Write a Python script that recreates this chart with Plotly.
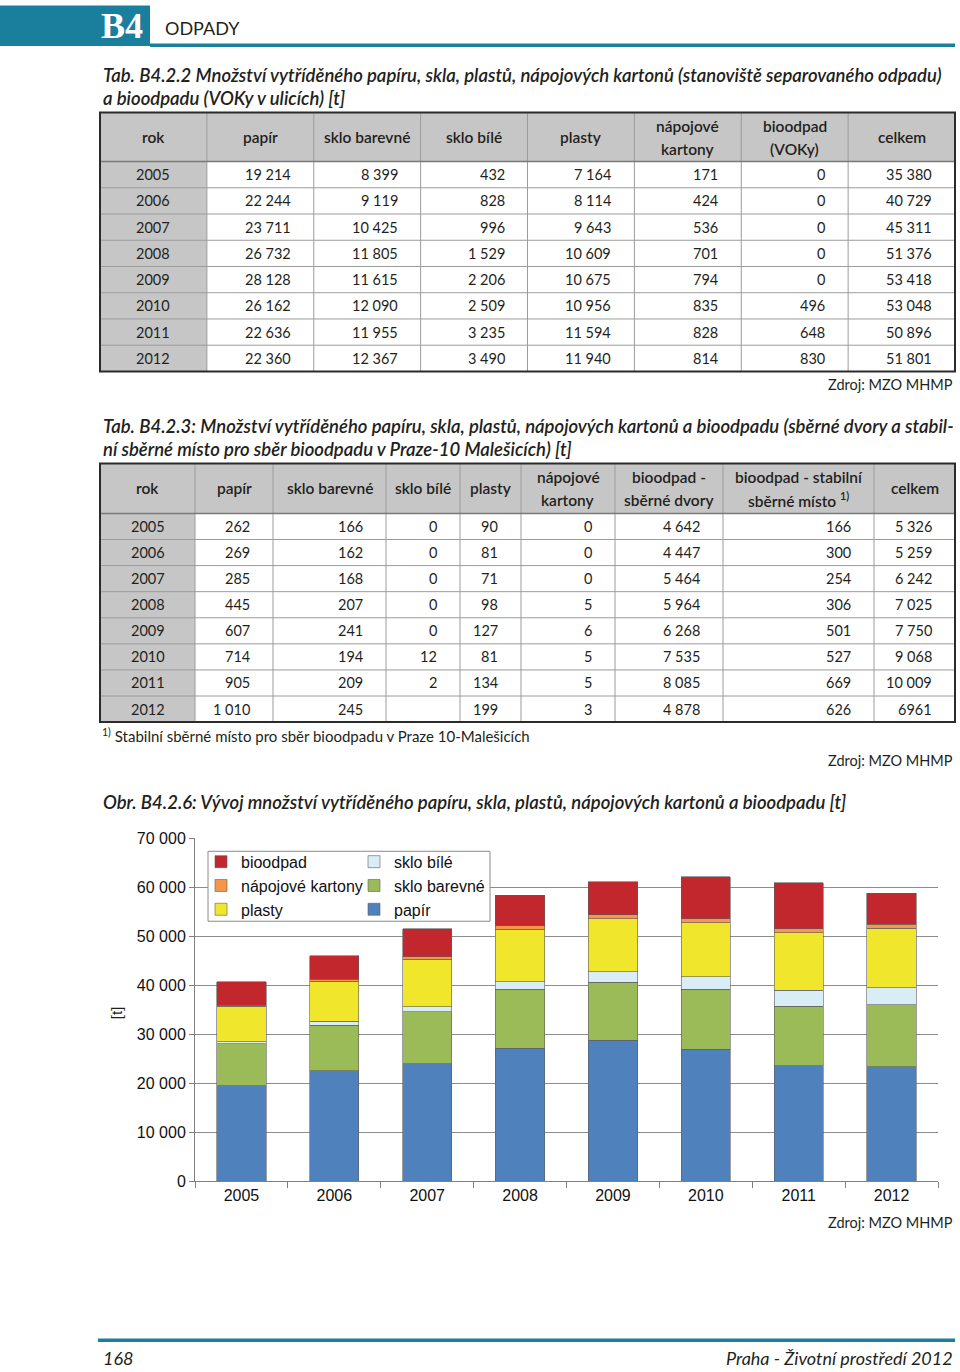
import plotly.graph_objects as go

# ---------------- data ----------------
years = ["2005", "2006", "2007", "2008", "2009", "2010", "2011", "2012"]

# Tab. B4.2.2 (VOKy v ulicích)
t1_papir = [19214, 22244, 23711, 26732, 28128, 26162, 22636, 22360]
t1_sklo_barevne = [8399, 9119, 10425, 11805, 11615, 12090, 11955, 12367]
t1_sklo_bile = [432, 828, 996, 1529, 2206, 2509, 3235, 3490]
t1_plasty = [7164, 8114, 9643, 10609, 10675, 10956, 11594, 11940]
t1_napojove = [171, 424, 536, 701, 794, 835, 828, 814]
t1_bioodpad = [0, 0, 0, 0, 0, 496, 648, 830]
t1_celkem = [35380, 40729, 45311, 51376, 53418, 53048, 50896, 51801]

# Tab. B4.2.3 (sběrné dvory a stabilní sběrné místo)
t2_papir = [262, 269, 285, 445, 607, 714, 905, 1010]
t2_sklo_barevne = [166, 162, 168, 207, 241, 194, 209, 245]
t2_sklo_bile = [0, 0, 0, 0, 0, 12, 2, None]
t2_plasty = [90, 81, 71, 98, 127, 81, 134, 199]
t2_napojove = [0, 0, 0, 5, 6, 5, 5, 3]
t2_bio_dvory = [4642, 4447, 5464, 5964, 6268, 7535, 8085, 4878]
t2_bio_stabilni = [166, 300, 254, 306, 501, 527, 669, 626]
t2_celkem_text = ["5 326", "5 259", "6 242", "7 025", "7 750", "9 068", "10 009", "6961"]

t1_headers = ["rok", "papír", "sklo barevné", "sklo bílé", "plasty",
              ["nápojové", "kartony"], ["bioodpad", "(VOKy)"], "celkem"]
t2_headers = ["rok", "papír", "sklo barevné", "sklo bílé", "plasty",
              ["nápojové", "kartony"], ["bioodpad -", "sběrné dvory"],
              ["bioodpad - stabilní", "sběrné místo <sup>1)</sup>"], "celkem"]

# ---------------- page geometry ----------------
W, H = 960, 1372
TEAL = "#1a7e9d"
TXT = "#231f20"
BODY = "Lato"
CHART_FONT = "Liberation Sans"

# the photographed page shows a small vertical inset; positions are planned
# in page pixels and mapped through it
Y_SCALE, Y_OFFSET = 0.988, 7.4


def px(x):
    return x / W


def py(y):
    return 1 - ((y - Y_OFFSET) / Y_SCALE) / H


def nz(v):
    return 0 if v is None else v


def fmt(v):
    if v is None:
        return ""
    return f"{v:,}".replace(",", " ")


shapes = []
annotations = []


def rect(x0, y0, x1, y1, fill=None, line=None, lw=0, layer="below"):
    shapes.append(dict(type="rect", xref="paper", yref="paper",
                       x0=px(x0), x1=px(x1), y0=py(y1), y1=py(y0),
                       fillcolor=fill if fill else "rgba(0,0,0,0)",
                       line=dict(color=line if line else "rgba(0,0,0,0)", width=lw),
                       layer=layer))


def line(x0, y0, x1, y1, color, lw=1, layer="below"):
    shapes.append(dict(type="line", xref="paper", yref="paper",
                       x0=px(x0), x1=px(x1), y0=py(y0), y1=py(y1),
                       line=dict(color=color, width=lw), layer=layer))


def text(x, y, s, size=15, xanchor="left", weight=400, style="normal",
         color=TXT, family=BODY, angle=0):
    if s == "":
        return
    annotations.append(dict(xref="paper", yref="paper", x=px(x), y=py(y),
                            text=s, showarrow=False, xanchor=xanchor,
                            yanchor="middle", textangle=angle,
                            font=dict(family=family, size=size, color=color,
                                      weight=weight, style=style)))


# ---------------- header / footer ----------------
rect(0, 5, 150, 45.5, fill=TEAL)
rect(150, 43, 955, 46.5, fill=TEAL)
text(122, 25, "<b>B4</b>", size=36, xanchor="center", color="white",
     family="Liberation Serif")
text(163, 27, "ODPADY", size=18, color=TXT)

rect(98, 1338.5, 955, 1342, fill=TEAL)
text(101, 1358, "168", size=18, style="italic")
text(955, 1358, "Praha - Životní prostředí 2012", size=18, style="italic",
     xanchor="right")

# ---------------- titles ----------------
TITLE = dict(size=18.5, style="italic", weight=600)
text(101, 74, "Tab. B4.2.2 Množství vytříděného papíru, skla, plastů, nápojových "
     "kartonů (stanoviště separovaného odpadu)", **TITLE)
text(101, 97, "a bioodpadu (VOKy v ulicích) [t]", **TITLE)
text(101, 426, "Tab. B4.2.3: Množství vytříděného papíru, skla, plastů, nápojových "
     "kartonů a bioodpadu (sběrné dvory a stabil-", **TITLE)
text(101, 449, "ní sběrné místo pro sběr bioodpadu v Praze-10 Malešicích) [t]", **TITLE)
text(101, 802, "Obr. B4.2.6: Vývoj množství vytříděného papíru, skla, plastů, "
     "nápojových kartonů a bioodpadu [t]", **TITLE)


# ---------------- tables ----------------
def draw_table(edges, top, header_h, row_h, headers, columns, pad=21):
    n_rows = len(columns[0])
    bottom = top + header_h + row_h * n_rows
    left, right = edges[0], edges[-1]
    hb = top + header_h
    gray = "#c6c6c6"
    grid = "#9c9c9c"
    rect(left, top, right, hb, fill=gray)
    rect(left, hb, edges[1], bottom, fill=gray)
    for e in edges[1:-1]:
        line(e, top, e, bottom, grid, 1)
    for i in range(1, n_rows):
        yy = hb + row_h * i
        line(left, yy, right, yy, grid, 1)
    line(left, hb, right, hb, "#7a7a7a", 1.5)
    rect(left, top, right, bottom, line="#2b2b2b", lw=2)
    hc = top + header_h / 2
    for j, h in enumerate(headers):
        cx = (edges[j] + edges[j + 1]) / 2
        if isinstance(h, list):
            text(cx, hc - 11.5, h[0], size=15.5, xanchor="center", weight=600)
            text(cx, hc + 11.5, h[1], size=15.5, xanchor="center", weight=600)
        else:
            text(cx, hc, h, size=15.5, xanchor="center", weight=600)
    for i in range(n_rows):
        cy = hb + row_h * i + row_h / 2
        for j, col in enumerate(columns):
            if j == 0:
                text((edges[0] + edges[1]) / 2, cy, col[i], size=14.5, xanchor="center")
            else:
                text(edges[j + 1] - pad, cy, col[i], size=14.5, xanchor="right")
    return bottom


t1_edges = [100 + k * (855 / 8) for k in range(9)]
t1_cols = [years] + [[fmt(v) for v in c] for c in
                     (t1_papir, t1_sklo_barevne, t1_sklo_bile, t1_plasty,
                      t1_napojove, t1_bioodpad, t1_celkem)]
draw_table(t1_edges, 112, 49, 26.25, t1_headers, t1_cols)
text(955, 384, "Zdroj: MZO MHMP", size=14.5, xanchor="right")

t2_edges = [100, 195, 273, 386, 460, 521, 615, 723, 874, 955]
t2_cols = [years] + [[fmt(v) for v in c] for c in
                     (t2_papir, t2_sklo_barevne, t2_sklo_bile, t2_plasty,
                      t2_napojove, t2_bio_dvory, t2_bio_stabilni)] + [t2_celkem_text]
draw_table(t2_edges, 463, 50, 26.1, t2_headers, t2_cols)
text(100, 735, "<sup>1)</sup> Stabilní sběrné místo pro sběr bioodpadu v Praze 10-Malešicích",
     size=15)
text(955, 760, "Zdroj: MZO MHMP", size=14.5, xanchor="right")
text(955, 1222, "Zdroj: MZO MHMP", size=14.5, xanchor="right")

# ---------------- chart ----------------
papir = [a + b for a, b in zip(t1_papir, t2_papir)]
sklo_barevne = [a + b for a, b in zip(t1_sklo_barevne, t2_sklo_barevne)]
sklo_bile = [a + nz(b) for a, b in zip(t1_sklo_bile, t2_sklo_bile)]
plasty = [a + b for a, b in zip(t1_plasty, t2_plasty)]
napojove = [a + b for a, b in zip(t1_napojove, t2_napojove)]
bioodpad = [a + b + c for a, b, c in zip(t1_bioodpad, t2_bio_dvory, t2_bio_stabilni)]

series = [
    ("papír", papir, "#4f81bd", "legend2", 3),
    ("sklo barevné", sklo_barevne, "#9bbb59", "legend2", 2),
    ("sklo bílé", sklo_bile, "#d8edf5", "legend2", 1),
    ("plasty", plasty, "#f0e62c", "legend", 3),
    ("nápojové kartony", napojove, "#f79646", "legend", 2),
    ("bioodpad", bioodpad, "#c1272d", "legend", 1),
]

fig = go.Figure()
for name, vals, color, lg, rank in series:
    fig.add_trace(go.Bar(x=years, y=vals, name=name, legend=lg, legendrank=rank,
                         marker=dict(color=color, line=dict(color="#5e5e5e", width=0.6))))

rect(208, 851, 490, 921, fill="white", line="#8a8a8a", lw=1, layer="above")
text(116, 1013, "[t]", size=15, family=CHART_FONT, angle=-90, xanchor="center")

legend_common = dict(yanchor="top", xanchor="left", bgcolor="rgba(0,0,0,0)",
                     borderwidth=0, traceorder="normal",
                     font=dict(family=CHART_FONT, size=16, color="#111"),
                     tracegroupgap=0, itemwidth=30)

fig.update_layout(
    width=W, height=H,
    margin=dict(l=0, r=0, t=0, b=0),
    paper_bgcolor="white", plot_bgcolor="white",
    barmode="stack", bargap=0.47,
    separators=", ",
    showlegend=True,
    legend=dict(x=px(201), y=py(844.5), **legend_common),
    legend2=dict(x=px(354), y=py(844.5), **legend_common),
    xaxis=dict(domain=[px(195), px(938)], type="category",
               showline=True, linecolor="#7f7f7f", linewidth=1,
               ticks="outside", tickson="boundaries", ticklen=6, tickcolor="#7f7f7f",
               tickfont=dict(family=CHART_FONT, size=16, color="#111"),
               showgrid=False),
    yaxis=dict(domain=[py(1181), py(838)], range=[0, 70000], dtick=10000,
               tickformat=",d", showline=True, linecolor="#7f7f7f", linewidth=1,
               ticks="outside", ticklen=5, tickcolor="#7f7f7f",
               gridcolor="#8c8c8c", gridwidth=1, zeroline=False,
               tickfont=dict(family=CHART_FONT, size=16, color="#111")),
    shapes=shapes,
    annotations=annotations,
)

PAGE_JS = """
var de = document.documentElement, b = document.body;
[de, b].forEach(function(el){
  el.style.setProperty('margin', '0px', 'important');
  el.style.setProperty('padding', '0px', 'important');
  el.style.setProperty('overflow', 'hidden', 'important');
});
"""

fig.write_html(
    "out.html",
    config={"responsive": False, "displayModeBar": False},
    post_script=PAGE_JS,
)
